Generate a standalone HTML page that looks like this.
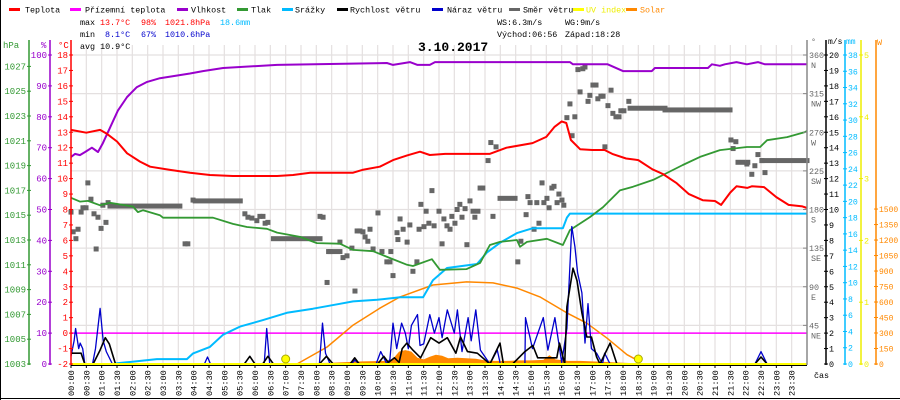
<!DOCTYPE html>
<html><head><meta charset="utf-8"><style>
html,body{margin:0;padding:0;background:#fff;}
svg{display:block;font-family:"Liberation Mono",monospace;}
</style></head><body>
<svg id="c" width="900" height="400" viewBox="0 0 900 400" xmlns="http://www.w3.org/2000/svg">
<rect x="0" y="0" width="900" height="400" fill="#fff"/>
<line x1="0.5" y1="0" x2="0.5" y2="400" stroke="#000"/>
<line x1="0" y1="398.5" x2="900" y2="398.5" stroke="#000"/>
<g id="grid"></g>
<g id="series"></g>
<g id="axes"></g>
<g font-size="8.4">
 <g><rect x="9" y="8" width="11" height="3" fill="#f00"/><text x="25" y="12.5">Teplota</text></g>
 <g><rect x="70" y="8" width="11" height="3" fill="#f0f"/><text x="85" y="12.5">Přízemní teplota</text></g>
 <g><rect x="177" y="8" width="11" height="3" fill="#90c"/><text x="191" y="12.5">Vlhkost</text></g>
 <g><rect x="237" y="8" width="11" height="3" fill="#393"/><text x="251" y="12.5">Tlak</text></g>
 <g><rect x="282" y="8" width="11" height="3" fill="#0bf"/><text x="295" y="12.5">Srážky</text></g>
 <g><rect x="337" y="8" width="11" height="3" fill="#000"/><text x="350" y="12.5">Rychlost větru</text></g>
 <g><rect x="432" y="8" width="11" height="3" fill="#00c"/><text x="447" y="12.5">Náraz větru</text></g>
 <g><rect x="509" y="8" width="11" height="3" fill="#666"/><text x="523" y="12.5">Směr větru</text></g>
 <g><rect x="573" y="8" width="11" height="3" fill="#ff0"/><text x="586" y="12.5" fill="#ee0">UV index</text></g>
 <g><rect x="626" y="8" width="11" height="3" fill="#f80"/><text x="640" y="12.5" fill="#f80">Solar</text></g>
</g>
<g font-size="8.4">
 <text x="80" y="25">max</text><text x="100" y="25" fill="#f00">13.7°C</text><text x="141" y="25" fill="#f00">98%</text><text x="165" y="25" fill="#f00">1021.8hPa</text><text x="220" y="25" fill="#0bf">18.6mm</text>
 <text x="80" y="37">min</text><text x="105" y="37" fill="#00c">8.1°C</text><text x="141" y="37" fill="#00c">67%</text><text x="165" y="37" fill="#00c">1010.6hPa</text>
 <text x="80" y="49">avg 10.9°C</text>
 <text x="497" y="25">WS:6.3m/s</text><text x="565" y="25">WG:9m/s</text>
 <text x="497" y="37">Východ:06:56</text><text x="565" y="37">Západ:18:28</text>
</g>
<text x="418" y="51" font-size="13" font-weight="bold">3.10.2017</text>
</svg>
<script>
// ---------- data ----------
const tempH=[0,0.5,0.95,1.17,1.5,1.83,2.25,2.58,3.23,3.88,4.53,5.28,6.72,7.24,7.8,9.2,9.5,10.07,10.5,10.96,11.38,11.7,12.2,13.0,13.65,14.2,15.05,15.5,15.77,16.0,16.15,16.3,16.6,17.0,17.4,17.65,18.1,18.5,18.96,19.3,19.75,20.15,20.6,21.0,21.2,21.5,21.7,22.05,22.2,22.6,23.0,23.4,23.85,24];
const tempV=[13.15,12.97,13.15,12.9,12.4,11.64,11.1,10.77,10.56,10.38,10.23,10.17,10.17,10.23,10.38,10.38,10.56,10.77,11.2,11.5,11.74,11.53,11.6,11.6,11.6,12.0,12.3,12.7,13.35,13.7,13.6,12.5,11.9,11.85,11.85,11.6,11.3,11.2,10.6,10.3,9.7,9.0,8.6,8.55,8.3,9.1,9.5,9.4,9.5,9.45,8.8,8.3,8.2,8.1];
const humH=[0,0.13,0.29,0.46,0.68,0.88,1.04,1.27,1.53,1.83,2.15,2.48,2.9,3.88,4.3,4.96,6.72,10.3,10.5,11.05,11.3,11.7,11.87,16.27,16.37,17.5,18.0,18.94,19.04,20.77,20.9,21.16,21.32,21.7,22.04,22.4,22.63,24];
const humV=[67,68,67.6,68.6,70,68.6,71.5,76.4,82,86.4,89.6,91.3,92.5,94,94.8,95.8,96.8,97.4,96.8,97.7,96.8,96.8,97.7,97.7,97,97,94.8,94.8,95.8,95.8,97,96.5,97,97.7,97,97.7,97,97];
const presH=[0,0.29,0.55,0.95,1.27,2.02,2.18,2.35,2.9,3.0,4.63,5.28,5.74,6.39,6.72,7.47,8.02,8.77,9.2,9.85,10.4,10.96,11.15,11.77,12.03,12.9,13.34,13.66,13.99,14.54,14.64,14.87,15.52,16.04,16.27,16.92,17.35,17.9,18.33,18.98,19.43,19.95,20.51,21.16,22.04,22.47,22.7,23.35,23.93,24];
const presV=[1016.4,1016.1,1016.15,1015.8,1016.0,1015.7,1015.25,1015.4,1015.0,1014.8,1014.8,1014.3,1014.05,1013.9,1013.6,1013.25,1012.75,1012.7,1012.2,1012.1,1011.55,1011.0,1010.9,1011.45,1010.6,1010.65,1011.15,1012.6,1012.85,1013.0,1012.45,1012.85,1013.1,1012.6,1013.8,1014.85,1015.65,1017.0,1017.3,1017.85,1018.4,1019.05,1019.7,1020.25,1020.5,1020.5,1021.05,1021.3,1021.7,1021.8];
const rainH=[1.43,1.5,1.92,2.8,3.78,3.98,4.53,4.96,5.51,6.26,7.04,7.89,8.77,9.2,9.98,10.73,11.48,11.8,12.26,13.24,13.56,13.99,14.54,15.06,16.04,16.17,16.27,24];
const rainV=[0,0.1,0.25,0.6,0.6,1.3,2.1,3.6,4.6,5.4,6.3,6.8,7.4,7.7,7.9,8.2,8.2,10.3,11.8,12.3,13.7,14.9,16.1,16.7,16.7,18.0,18.5,18.5];
const solarMaxH=[7.37,8.35,9.2,10.07,10.73,11.8,12.9,13.76,14.54,15.29,16.17,16.82,17.48,18.13,18.45,18.55];
const solarMaxV=[0,165,377,540,650,765,795,785,735,650,495,395,250,90,40,0];
const solarH=[7.4,7.6,8.5,9.5,10.3,10.5,10.7,10.9,11.1,11.3,11.5,11.7,11.9,12.1,12.3,12.6,12.9,13.2,13.5,13.8,14.2,14.6,15.0,15.4,15.6,15.8,16.2,16.6,17.0,17.4,17.8,18.2,18.5];
const solarV=[0,8,12,25,30,50,120,135,120,60,45,70,90,80,55,60,55,50,35,30,30,35,35,40,85,45,30,30,25,20,15,10,0];
const windH=[0,0.33,0.45,0.72,0.95,1.12,1.25,1.45,5.65,5.83,6.0,6.25,6.42,6.6,8.1,8.33,8.55,9.1,9.25,9.4,10.0,10.2,10.35,10.55,10.7,10.8,10.95,11.15,11.4,11.73,12.0,12.27,12.55,12.7,12.93,13.25,13.66,13.99,14.1,14.4,14.8,15.06,15.22,15.84,15.93,16.1,16.17,16.37,16.5,16.66,16.82,16.97,17.14,17.25,17.58,17.8,22.3,22.5,22.7,24];
const windV=[0.7,0.7,0,0,0.9,1.7,1.3,0,0,0.5,0,0,0.5,0,0,0.5,0,0,0.4,0,0,0.5,0.1,0.4,0.1,1.0,1.35,0.9,0.4,1.7,1.35,1.7,0.7,1.75,0.8,0.7,0,1.35,0,0,0.8,1.2,0.4,0.4,1.35,0,3.7,6.2,5.4,3.3,1.75,1.75,0.45,0,1.35,0,0,0.45,0,0];
const gustH=[0,0.1,0.15,0.25,0.3,0.38,0.45,0.7,0.8,0.95,1.05,1.15,1.35,4.35,4.45,4.55,6.3,6.38,6.48,8.1,8.2,8.3,8.45,9.15,9.25,9.4,9.95,10.1,10.3,10.4,10.5,10.62,10.78,10.9,11.0,11.1,11.3,11.38,11.5,11.7,11.85,12.0,12.1,12.27,12.5,12.6,12.75,12.95,13.05,13.2,13.35,13.66,13.9,14.0,14.8,14.82,15.05,15.4,15.55,15.78,16.0,16.17,16.33,16.43,16.52,16.66,16.76,16.86,16.97,17.14,17.33,17.4,17.58,22.3,22.5,22.7,24];
const gustV=[0.5,1.5,2.3,1.0,1.35,1.0,0,0,1.0,3.6,1.5,0.8,0,0,0.45,0,0,2.3,0,0,2.65,0.7,0,0,0.25,0,0,0.8,0,0.3,2.65,1.0,2.65,2.0,1.0,2.5,3.2,1.2,1.3,3.2,2.0,3.0,1.7,3.5,2.0,3.5,0.8,3.0,1.5,3.5,0.9,0,0.9,0,0,3.0,1.0,3.0,0.9,3.0,0.1,2.3,8.9,7.6,5.9,4.6,1.35,3.9,1.0,0.7,0,0.7,0,0,0.8,0,0];
const dirH=[0,0.07,0.16,0.23,0.33,0.39,0.49,0.55,0.65,0.75,0.82,0.88,0.98,1.04,1.14,1.21,3.72,3.81,3.98,5.67,5.77,5.9,6.06,6.16,6.26,6.33,6.42,8.12,8.22,8.35,8.45,8.77,8.87,9.0,9.16,9.26,9.33,9.42,9.52,9.59,9.68,9.75,9.85,10.01,10.14,10.3,10.4,10.43,10.5,10.63,10.66,10.73,10.83,10.96,11.05,11.15,11.28,11.35,11.41,11.51,11.58,11.67,11.77,11.84,12.0,12.1,12.16,12.26,12.36,12.42,12.52,12.59,12.68,12.75,12.85,12.91,13.01,13.11,13.17,13.27,13.34,13.43,13.6,13.69,13.76,13.86,14.57,14.67,14.84,14.9,14.97,15.1,15.19,15.26,15.36,15.42,15.52,15.59,15.68,15.75,15.85,15.91,16.01,16.07,16.17,16.27,16.34,16.43,16.53,16.6,16.69,16.76,16.86,16.92,17.02,17.12,17.18,17.28,17.35,17.41,17.51,17.61,17.67,17.77,17.87,17.93,18.03,18.19,21.52,21.59,21.68,21.75,21.91,22.04,22.07,22.2,22.3,22.4,22.53,22.63];
const dirV=[177,154,146,157,177,182,182,211,192,175,134,171,158,185,165,188,140,140,191,175,171,170,167,172,172,164,165,172,171,95,131,142,124,126,135,85,155,155,154,148,143,157,134,176,131,119,119,131,103,153,145,169,157,142,162,108,119,157,186,160,178,164,202,161,178,140,169,161,157,172,164,180,186,171,181,139,190,178,171,178,205,205,237,258,172,253,119,143,174,195,188,157,188,164,211,188,193,182,205,207,188,198,191,185,287,303,266,288,343,317,344,346,306,313,325,325,309,312,312,253,301,319,292,288,288,295,295,306,261,251,259,235,235,233,235,221,231,244,237,223];
const dirRunStart=[1.27,4.05,6.6,8.4,13.99,18.23,19.37,22.53];
const dirRunEnd=[3.55,5.52,8.12,8.77,14.48,19.37,21.49,24];
const dirRunV=[184,190,146,131,193,298,296,237];
const sunEventsH=[7.0,18.5];
const timeLabels=[];for(let i=0;i<48;i++){timeLabels.push(String(Math.floor(i/2)).padStart(2,'0')+':'+(i%2?'30':'00'));}
const hpaTicks=[1003,1005,1007,1009,1011,1013,1015,1017,1019,1021,1023,1025,1027];
const pctTicks=[0,10,20,30,40,50,60,70,80,90,100];
const tempTicks=[-2,-1,0,1,2,3,4,5,6,7,8,9,10,11,12,13,14,15,16,17,18];
const dirTicks=[45,90,135,180,225,270,315,360];
const dirNames=['NE','E','SE','S','SW','W','NW','N'];
const msTicks=[0,1,2,3,4,5,6,7,8,9,10,11,12,13,14,15,16,17,18,19,20];
const mmTicks=[0,2,4,6,8,10,12,14,16,18,20,22,24,26,28,30,32,34,36,38];
const uvTicks=[0,1,2,3,4,5];
const wTicks=[0,150,300,450,600,750,900,1050,1200,1350,1500];

// ---------- scales ----------
const X0=71,X1=807,YT=55,YB=364;
const X=h=>X0+h*(X1-X0)/24;
const yC=t=>YT+(18-t)*(YB-YT)/20;
const yPct=p=>YT+(100-p)*(YB-YT)/100;
const yH=p=>YB-(p-1003)*12.4;
const yMM=m=>YB-m*(YB-YT)/38;
const yW=w=>YB-w*0.1033;
const yMS=v=>YB-v*(YB-YT)/20;
const yD=d=>YB-d*(YB-YT)/360;
const yUV=u=>YB-u*(YB-YT)/5;

const NS='http://www.w3.org/2000/svg';
function mk(tag,attrs,parent){const e=document.createElementNS(NS,tag);for(const k in attrs)e.setAttribute(k,attrs[k]);parent.appendChild(e);return e;}
const grid=document.getElementById('grid'),ser=document.getElementById('series'),ax=document.getElementById('axes');

for(let i=1;i<48;i++){const x=X(i/2);const l=mk('line',{x1:x,y1:YT-10,x2:x,y2:YB,stroke:'#e4e0e0','stroke-width':1.2},grid);

}
for(let d=45;d<=360;d+=45){const y=yD(d);const l=mk('line',{x1:X0,y1:y,x2:X1,y2:y,stroke:'#e4e0e0','stroke-width':1.2},grid);

}

function poly(hs,vs,fx,fy,color,w,name){const pts=hs.map((h,i)=>X(h).toFixed(1)+','+fy(vs[i]).toFixed(1)).join(' ');
const p=mk('polyline',{points:pts,fill:'none',stroke:color,'stroke-width':w,'stroke-linejoin':'round'},ser);

return p;}

{const pts=solarH.map((h,i)=>X(h).toFixed(1)+','+yW(solarV[i]).toFixed(1));
pts.push(X(solarH[solarH.length-1])+','+YB);pts.unshift(X(solarH[0])+','+YB);
const p=mk('polygon',{points:pts.join(' '),fill:'#f80'},ser);

}
{const l=mk('line',{x1:X0,y1:yC(0),x2:X1,y2:yC(0),stroke:'#f0f','stroke-width':1.5},ser);

}
poly(solarMaxH,solarMaxV,X,yW,'#f80',1.5,'solar-max-line');
for(let i=0;i<dirRunStart.length;i++){const r=mk('rect',{x:X(dirRunStart[i])-2.5,y:yD(dirRunV[i])-2.5,width:X(dirRunEnd[i])-X(dirRunStart[i])+5,height:5,fill:'#666'},ser);

}
for(let i=0;i<dirH.length;i++){const r=mk('rect',{x:X(dirH[i])-2.5,y:yD(dirV[i])-2.5,width:5,height:5,fill:'#666'},ser);

}
poly(rainH,rainV,X,yMM,'#0bf',2,'precipitation-line');
poly(presH,presV,X,yH,'#393',1.8,'pressure-line');
poly(humH,humV,X,yPct,'#90c',2,'humidity-line');
poly(tempH,tempV,X,yC,'#f00',2,'temperature-line');
poly(gustH,gustV,X,yMS,'#00c',1.3,'wind-gust-line');
poly(windH,windV,X,yMS,'#000',1.6,'wind-speed-line');
{const l=mk('line',{x1:X0,y1:YB+0.5,x2:X1,y2:YB+0.5,stroke:'#ff0','stroke-width':3},ser);

}
for(let i=0;i<sunEventsH.length;i++){const c=mk('circle',{cx:X(sunEventsH[i]),cy:YB-5,r:4,fill:'#ff0',stroke:'#aa0','stroke-width':1},ser);

}
{const l=mk('line',{x1:X0,y1:YB+1.5,x2:X1,y2:YB+1.5,stroke:'#000','stroke-width':1},ser);

}

function vaxis(x,color,name){const l=mk('line',{x1:x,y1:YT-15,x2:x,y2:YB+1,stroke:color,'stroke-width':1.5},ax);

}
function label(x,y,txt,color,anchor,name,size){const t=mk('text',{x:x,y:y,fill:color,'font-size':size||9.5,'text-anchor':anchor},ax);t.textContent=txt;

return t;}
function tick(x,y,color){mk('line',{x1:x-2,y1:y,x2:x+2,y2:y,stroke:color,'stroke-width':1},ax);}
vaxis(29,'#393','hpa-axis');vaxis(50,'#90c','humidity-axis');vaxis(X0,'#f00','temperature-axis');
vaxis(X1,'#888','direction-axis');vaxis(826,'#000','wind-speed-axis');vaxis(845,'#0bf','precipitation-axis');vaxis(861,'#ee0','uv-axis');vaxis(876,'#f80','solar-axis');
hpaTicks.forEach(v=>{tick(29,yH(v),'#393');label(26,yH(v)+3,String(v),'#393','end','hpa-tick-label',9);});
pctTicks.forEach(v=>{tick(50,yPct(v),'#90c');label(47,yPct(v)+3,String(v),'#90c','end','humidity-tick-label',9);});
tempTicks.forEach(v=>{tick(X0,yC(v),'#f00');label(68,yC(v)+3,String(v),'#f00','end','temperature-tick-label',9);});
dirTicks.forEach((v,i)=>{mk('line',{x1:X1-4,y1:yD(v),x2:X1,y2:yD(v),stroke:'#888'},ax);label(809,yD(v)+3,String(v),'#666','start','direction-tick-label',8.4);label(811,yD(v)+13,dirNames[i],'#666','start','direction-name-label',8.4);});
msTicks.forEach(v=>{tick(826,yMS(v),'#000');label(829,yMS(v)+3,String(v),'#000','start','wind-speed-tick-label',8.4);});
mmTicks.forEach(v=>{tick(845,yMM(v),'#0bf');label(848,yMM(v)+3,String(v),'#0bf','start','precipitation-tick-label',8.2);});
uvTicks.forEach(v=>{tick(861,yUV(v),'#ee0');label(864,yUV(v)+3,String(v),'#ee0','start','uv-tick-label',8.4);});
wTicks.forEach(v=>{tick(876,yW(v),'#f80');label(879,yW(v)+3,String(v),'#f80','start','solar-tick-label',8);});
label(3,48,'hPa','#393','start','hpa-axis-title',9);label(41,48,'%','#90c','start','humidity-axis-title',9);label(58,48,'°C','#f00','start','temperature-axis-title',9);
label(811,44,'°','#666','start','direction-axis-title',8.4);label(828,44,'m/s','#000','start','wind-speed-axis-title',8);label(846,44,'mm','#0bf','start','precipitation-axis-title',8);label(877,45,'W','#f80','start','solar-axis-title',8.4);
label(814,378,'čas','#000','start','x-axis-title',8.4);
timeLabels.forEach((s,i)=>{const x=X(i/2);mk('line',{x1:x,y1:YB+1,x2:x,y2:YB+4,stroke:'#000'},ax);
const t=mk('text',{x:0,y:0,'font-size':8.6,transform:'translate('+(x+3)+',396) rotate(-90)',fill:'#000'},ax);t.textContent=s;

});
</script>
</body></html>
